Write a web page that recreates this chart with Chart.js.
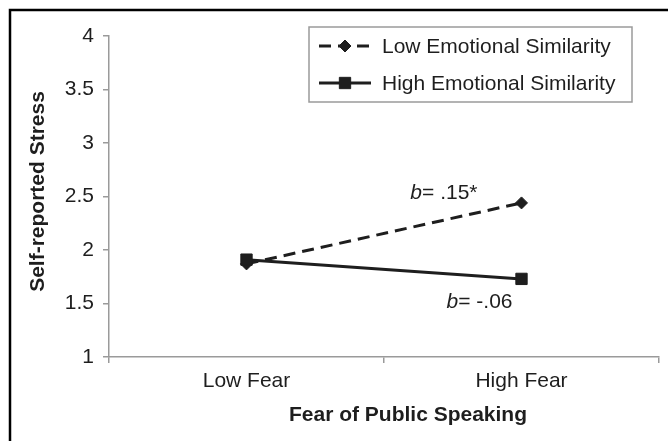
<!DOCTYPE html>
<html lang="en">
<head>
<meta charset="UTF-8">
<title>Self-reported Stress by Fear of Public Speaking</title>
<script src="https://cdn.jsdelivr.net/npm/chart.js"></script>
<style>
    html, body { margin: 0; padding: 0; background: #fff; }
    #wrap { width: 668px; height: 441px; position: relative; }
</style>
</head>
<body>
<div id="wrap"><canvas id="stressChart"></canvas></div>
<script>
    // data
    const categories = ['Low Fear', 'High Fear'];
    const seriesNames = ['Low Emotional Similarity', 'High Emotional Similarity'];
    const lowSimilarity = [1.87, 2.44];
    const highSimilarity = [1.91, 1.73];
    const yTicks = [1, 1.5, 2, 2.5, 3, 3.5, 4];
    const slopeLabels = ['.15*', '-.06'];

    const ink = '#1e1e1e';
    const axisGray = '#9a9a9a';
    const fontFamily = '"Liberation Sans", Arial, sans-serif';
    const textSize = 21;

    // black frame on the left and top edge of the figure
    const framePlugin = {
        id: 'frame',
        afterDraw(chart) {
            const ctx = chart.ctx;
            ctx.save();
            ctx.strokeStyle = '#000';
            ctx.lineWidth = 2.5;
            ctx.beginPath();
            ctx.moveTo(10, chart.height);
            ctx.lineTo(10, 10);
            ctx.lineTo(chart.width, 10);
            ctx.stroke();
            ctx.restore();
        }
    };

    // axis titles (the x title sits a bit right of the axis centre in the original)
    const titlesPlugin = {
        id: 'axisTitles',
        afterDraw(chart) {
            const ctx = chart.ctx;
            const area = chart.chartArea;
            ctx.save();
            ctx.fillStyle = ink;
            ctx.font = 'bold ' + textSize + 'px ' + fontFamily;
            ctx.textAlign = 'center';
            ctx.textBaseline = 'middle';
            ctx.fillText('Fear of Public Speaking', (area.left + area.right) / 2 + 24, 415);
            ctx.translate(38, (area.top + area.bottom) / 2 - 5);
            ctx.rotate(-Math.PI / 2);
            ctx.fillText('Self-reported Stress', 0, 0);
            ctx.restore();
        }
    };

    // legend box with line + marker samples
    const legendPlugin = {
        id: 'legendBox',
        afterDraw(chart) {
            const ctx = chart.ctx;
            ctx.save();
            ctx.strokeStyle = axisGray;
            ctx.lineWidth = 1.5;
            ctx.strokeRect(309, 27, 323, 75);
            const rowY = [46, 83];
            chart.data.datasets.forEach((ds, i) => {
                const y = rowY[i];
                ctx.strokeStyle = ds.borderColor;
                ctx.lineWidth = ds.borderWidth;
                ctx.setLineDash(ds.borderDash || []);
                ctx.beginPath();
                ctx.moveTo(319, y);
                ctx.lineTo(371, y);
                ctx.stroke();
                ctx.setLineDash([]);
                ctx.fillStyle = ds.pointBackgroundColor;
                ctx.strokeStyle = ds.pointBorderColor;
                ctx.lineWidth = 1;
                Chart.helpers.drawPoint(ctx, {
                    pointStyle: ds.pointStyle,
                    radius: ds.pointRadius,
                    rotation: 0,
                    borderWidth: 1
                }, 345, y);
                ctx.fillStyle = ink;
                ctx.font = textSize + 'px ' + fontFamily;
                ctx.textAlign = 'left';
                ctx.textBaseline = 'middle';
                ctx.fillText(ds.label, 382, y + 1);
            });
            ctx.restore();
        }
    };

    // slope labels next to the High Fear points
    const slopePlugin = {
        id: 'slopes',
        afterDatasetsDraw(chart) {
            const ctx = chart.ctx;
            const xs = chart.scales.x;
            const ys = chart.scales.y;
            const series = [lowSimilarity, highSimilarity];
            const shiftY = [-10, 23];
            ctx.save();
            ctx.fillStyle = ink;
            ctx.textBaseline = 'middle';
            series.forEach((vals, i) => {
                const last = vals.length - 1;
                const right = xs.getPixelForValue(last) - (i === 0 ? 44 : 9);
                const y = ys.getPixelForValue(vals[last]) + shiftY[i];
                const rest = '= ' + slopeLabels[i];
                ctx.font = textSize + 'px ' + fontFamily;
                const wRest = ctx.measureText(rest).width;
                ctx.font = 'italic ' + textSize + 'px ' + fontFamily;
                const wB = ctx.measureText('b').width;
                ctx.textAlign = 'left';
                ctx.fillText('b', right - wRest - wB, y);
                ctx.font = textSize + 'px ' + fontFamily;
                ctx.fillText(rest, right - wRest, y);
            });
            ctx.restore();
        }
    };

    const ctx = document.getElementById('stressChart').getContext('2d');
    const chart = new Chart(ctx, {
        type: 'line',
        data: {
            labels: categories,
            datasets: [
                {
                    label: seriesNames[0],
                    data: lowSimilarity,
                    borderColor: ink,
                    borderWidth: 3,
                    borderDash: [12, 7],
                    pointStyle: 'rectRot',
                    pointRadius: 6,
                    pointBackgroundColor: ink,
                    pointBorderColor: ink,
                    pointBorderWidth: 1,
                    order: 1
                },
                {
                    label: seriesNames[1],
                    data: highSimilarity,
                    borderColor: ink,
                    borderWidth: 3,
                    pointStyle: 'rect',
                    pointRadius: 8,
                    pointBackgroundColor: ink,
                    pointBorderColor: ink,
                    pointBorderWidth: 1,
                    order: 0
                }
            ]
        },
        options: {
            responsive: true,
            maintainAspectRatio: false,
            animation: false,
            layout: { padding: { top: 36, right: 9, left: 0, bottom: 0 } },
            plugins: {
                legend: { display: false },
                tooltip: { enabled: false }
            },
            scales: {
                x: {
                    offset: true,
                    grid: { offset: true, drawOnChartArea: false, color: axisGray, lineWidth: 1.5, tickLength: 6 },
                    border: { color: axisGray, width: 1.5 },
                    ticks: { color: ink, font: { size: textSize, family: fontFamily }, padding: 6, maxRotation: 0 },
                    afterFit(scale) { scale.height = 84; }
                },
                y: {
                    min: 1,
                    max: 4,
                    afterBuildTicks(scale) { scale.ticks = yTicks.map(v => ({ value: v })); },
                    grid: { drawOnChartArea: false, color: axisGray, lineWidth: 1.5, tickLength: 6 },
                    border: { color: axisGray, width: 1.5 },
                    ticks: {
                        color: ink,
                        font: { size: textSize, family: fontFamily },
                        padding: 9,
                        callback: v => String(v)
                    },
                    afterFit(scale) { scale.width = 109; }
                }
            }
        },
        plugins: [framePlugin, titlesPlugin, legendPlugin, slopePlugin]
    });
</script>
</body>
</html>
